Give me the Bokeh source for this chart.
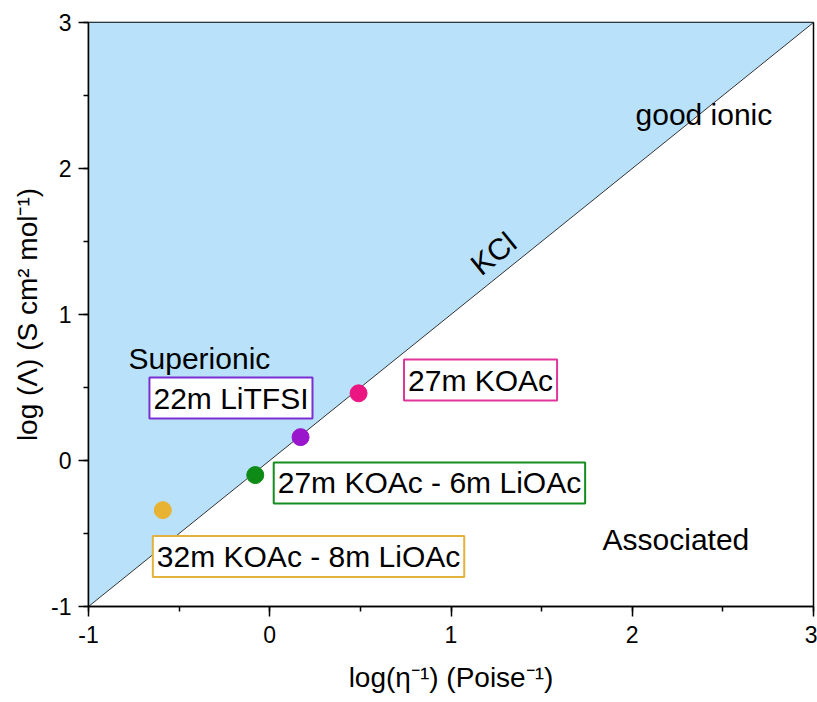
from bokeh.plotting import figure
from bokeh.models import ColumnDataSource, Label, SingleIntervalTicker, Range1d, PrintfTickFormatter
from bokeh.embed import file_html
from bokeh.resources import INLINE

# Walden plot data: log fluidity vs log molar conductivity
electrolytes = ["32m KOAc - 8m LiOAc", "27m KOAc - 6m LiOAc", "22m LiTFSI", "27m KOAc"]
log_fluidity = [-0.59, -0.08, 0.17, 0.49]
log_molar_cond = [-0.34, -0.10, 0.16, 0.46]
point_colors = ["#e8b232", "#0e8a16", "#9a16cc", "#ec1683"]
box_colors = ["#e3b23c", "#148c1e", "#7a2fd2", "#e0359a"]

# Ideal KCl reference line
kcl_x = [-1, 3]
kcl_y = [-1, 3]
top_y = [3, 3]

FONT = "Liberation Sans"

p = figure(width=817, height=702, output_backend="svg", toolbar_location=None,
           x_range=Range1d(-1, 3), y_range=Range1d(-1, 3),
           min_border_left=88, min_border_right=4, min_border_top=22, min_border_bottom=96)

p.xgrid.visible = False
p.ygrid.visible = False
p.outline_line_color = "black"
p.outline_line_width = 1.5
p.background_fill_color = "white"
p.border_fill_color = "white"

# Superionic region above the KCl line
p.varea(x=kcl_x, y1=kcl_y, y2=top_y, fill_color="#b9e2fa")
p.line(kcl_x, kcl_y, line_color="#333333", line_width=1)

src = ColumnDataSource(dict(x=log_fluidity, y=log_molar_cond, c=point_colors, name=electrolytes))
p.scatter("x", "y", source=src, size=17, fill_color="c", line_color="c")

for ax in (p.xaxis[0], p.yaxis[0]):
    ax.ticker = SingleIntervalTicker(interval=1, num_minor_ticks=2)
    ax.formatter = PrintfTickFormatter(format="%d")
    ax.axis_line_width = 1.5
    ax.major_tick_line_width = 1.5
    ax.minor_tick_line_width = 1.5
    ax.major_tick_out = 10
    ax.major_tick_in = 0
    ax.minor_tick_out = 5
    ax.minor_tick_in = 0
    ax.major_label_text_font = FONT
    ax.major_label_text_font_size = "23px"
    ax.major_label_text_color = "black"
    ax.axis_label_text_font = FONT
    ax.axis_label_text_font_style = "normal"
    ax.axis_label_text_font_size = "28px"
    ax.axis_label_text_color = "black"

p.xaxis.major_label_standoff = 9
p.xaxis.axis_label_standoff = 16
p.yaxis.major_label_standoff = 7
p.yaxis.axis_label_standoff = 5

p.xaxis.axis_label = "log(η⁻¹) (Poise⁻¹)"
p.yaxis.axis_label = "log (Λ) (S cm² mol⁻¹)"

# Region and reference annotations
def add_text(x, y, text, align="left", angle=0.0):
    p.add_layout(Label(x=x, y=y, text=text, text_font=FONT, text_font_size="30px",
                       text_color="black", text_align=align, text_baseline="middle",
                       angle=angle, angle_units="deg"))

add_text(-0.779, 0.70, "Superionic")
add_text(2.018, 2.37, "good ionic")
add_text(1.836, -0.54, "Associated")
add_text(1.234, 1.418, "KCl", align="center", angle=38.85)

# Boxed electrolyte labels
box_pos = [(0.214, -0.658), (0.881, -0.154), (-0.214, 0.428), (1.163, 0.551)]
for (bx, by), name, bc in zip(box_pos, electrolytes, box_colors):
    p.add_layout(Label(x=bx, y=by, text=name, text_font=FONT, text_font_size="30px",
                       text_color="black", text_align="center", text_baseline="middle",
                       background_fill_color="white", border_line_color=bc,
                       border_line_width=2, padding=4))

open("out.html", "w").write(file_html(p, INLINE))
